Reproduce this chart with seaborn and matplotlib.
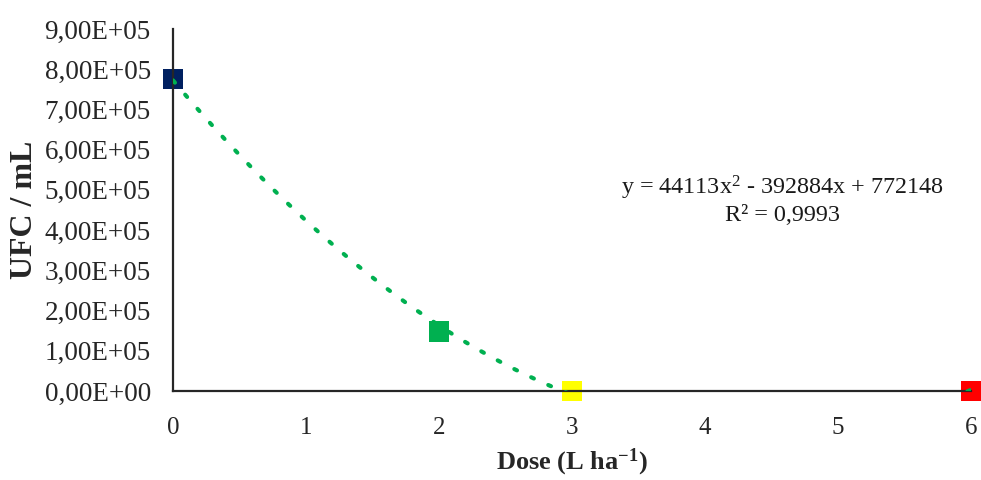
import numpy as np
import pandas as pd
import matplotlib
matplotlib.use("Agg")
import matplotlib.pyplot as plt
from matplotlib.ticker import FuncFormatter, MultipleLocator
import seaborn as sns

# Colony counts per dose
doses = [0, 2, 3, 6]
ufc = [776000, 148000, 0, 0]
point_colors = ["#002060", "#00B050", "#FFFF00", "#FF0000"]

# Quadratic trend coefficients (a*x^2 + b*x + c) and fit quality
trend_coefs = [44113, -392884, 772148]
r_squared = "0,9993"

sns.set_theme(style="white")
plt.rcParams["font.family"] = ["Liberation Serif", "DejaVu Serif"]
plt.rcParams["mathtext.fontset"] = "custom"
plt.rcParams["mathtext.rm"] = "Liberation Serif"
plt.rcParams["mathtext.bf"] = "Liberation Serif:bold"
plt.rcParams["mathtext.it"] = "Liberation Serif:italic"

fig = plt.figure(figsize=(9.81, 4.8), dpi=100)
ax = fig.add_axes([0.1764, 0.1854, 0.8135, 0.7542])

# Trend line
xs = np.linspace(0, 6, 400)
trend = pd.DataFrame({"x": xs, "y": np.polyval(trend_coefs, xs)})
sns.lineplot(data=trend, x="x", y="y", ax=ax, color="#00B050",
             linewidth=3.0, linestyle=(0, (0.7, 3.8)),
             dash_capstyle="round", zorder=3)

# Data points
df = pd.DataFrame({"dose": doses, "ufc": ufc,
                   "grp": [str(d) for d in doses]})
sns.scatterplot(data=df, x="dose", y="ufc", hue="grp",
                palette=point_colors, marker="s", s=210,
                edgecolor="none", legend=False, ax=ax,
                clip_on=False, zorder=2)

ax.set_xlim(0, 6)
ax.set_ylim(0, 9e5)
ax.xaxis.set_major_locator(MultipleLocator(1))
ax.yaxis.set_major_locator(MultipleLocator(1e5))
ax.yaxis.set_major_formatter(
    FuncFormatter(lambda v, p: f"{v:.2E}".replace(".", ",")))

for side in ("top", "right"):
    ax.spines[side].set_visible(False)
for side in ("left", "bottom"):
    ax.spines[side].set_color("#262626")
    ax.spines[side].set_linewidth(1.6)

ax.tick_params(axis="y", length=0, pad=16, labelsize=19.5, colors="#262626")
ax.tick_params(axis="x", length=0, pad=19, labelsize=18, colors="#262626")

ax.set_ylabel("UFC / mL", fontsize=23, fontweight="bold", color="#262626")
ax.yaxis.set_label_coords(-0.168, 0.5)
ax.set_xlabel(r"Dose (L ha$^{\mathbf{-1}}$)", fontsize=19,
              fontweight="bold", color="#262626", va="baseline")
ax.xaxis.set_label_coords(0.5, -0.218)

eq = (f"y = {trend_coefs[0]}x$^{{2}}$ - {abs(trend_coefs[1])}x"
      f" + {trend_coefs[2]}")
ax.text(0.764, 0.56, eq, transform=ax.transAxes, ha="center",
        va="center", fontsize=17.4, color="#1a1a1a")
ax.text(0.764, 0.486, f"R² = {r_squared}", transform=ax.transAxes,
        ha="center", va="center", fontsize=17.4, color="#1a1a1a")

fig.savefig("out.png", dpi=100)
